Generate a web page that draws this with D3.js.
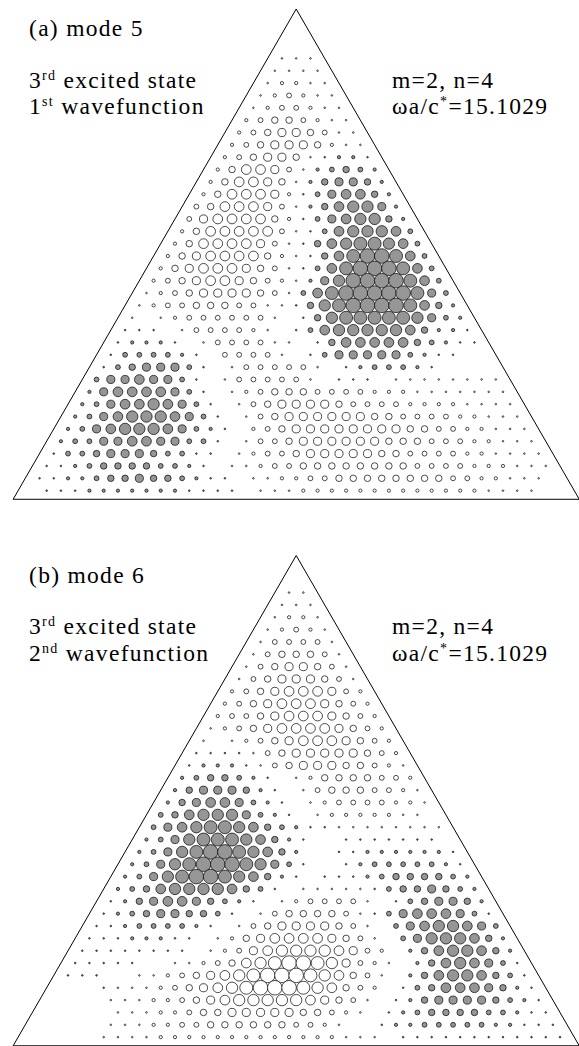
<!DOCTYPE html>
<html>
<head>
<meta charset="utf-8">
<script src="https://cdn.jsdelivr.net/npm/d3@7"></script>
<style>
html, body { margin: 0; padding: 0; background: #fff; }
svg { display: block; }
</style>
</head>
<body>
<svg id="chart" width="579" height="1046"></svg>
<script>
// amplitude rows, one string per lattice row (row k holds k-1 interior points)
// digits 0-9 = positive (open circle), letters a-i = negative (grey), magnitude 1-9
var mode5Rows = [
  "", "0", "00", "111", "1111", "12211", "123211", "1233211", "23443211",
  "234554311", "2345554211", "2345541abba", "2466531bcdcb", "2466541bdeedb",
  "2466652aceffdb", "34666531bdfggeb", "35666642acefggdb", "246666631acfgggfc",
  "246666531adfghhgfc", "2456666421adfhiihfc", "2456665431acfhiiihfc",
  "23456654321begiiiihfc", "12345555431cfhiiiiihec", "12334443311adghiiiihfdb",
  "101233333310adghhhhhgecb", "aaa013333210acfgggggfdbba", "abbba013333110adfffffdcbaa",
  "accccba0333310aceeeeecbaa00", "acdeeeca013333310abcccba0000",
  "ceefeeca013333310aaa011111111", "beffffeca012344433332221111111",
  "bceffgfeca013455554333322221111", "bcefgggfeca013455555544333322111",
  "bcefgggfecba023455555555443322111", "bcceeffeecca0133455555544433322111",
  "accdeeedccaa01233455555443333221111", "aabcddddccba011233444444443333222111",
  "aabbcddeddcbaa01122334444444433221110", "0aaabbbbbbbaaaa01112222222222222111100"
];

var mode6Rows = [
  "", "0", "11", "111", "1221", "12321", "133331", "1344431", "13455431",
  "134555431", "2345666532", "23456665432", "233456665432", "1234566665432",
  "10123456665432", "aaaa13455555432", "abbba13455544321", "bcddcba0124444332",
  "bdeeedba0134443321", "bdeffecba0123333221", "cdfgggecba0122222110",
  "cefghhgfdcbaa11111111", "bceghhhgfdba00aaaaaaa0", "bceghiihgfdb00aabbbbbba",
  "bceghiiihgeca00abcccccba", "bceghiihgfdba0aaabcddddcb", "bcdfggggfdca011111acddedcb",
  "abdeffedcba012333310acdeedb", "abcdeeddca013444431acefffeca",
  "aabccccba013455554310cefggfec", "aaabbbaa01245666654310cegggfdb",
  "aaaaaaaa012356777765320bdfggfdb", "aaaaa0011234678998753210bdfgfeca",
  "aaa001123456789998764310bdfggfdca", "000a11123456789998764320acdfffedba",
  "000011122345677777654310abdeeeedcba", "000001112234455555443210abcddddccbaa",
  "000001112233444444332100abbcccccbbaaa", "00000111122222222222221110aaaaaaaaaaaaaa0"
];

var panelTitles = ["(a) mode 5", "(b) mode 6"];
var stateLine = ["3", "rd", " excited state"];
var waveLines = [["1", "st", " wavefunction"], ["2", "nd", " wavefunction"]];
var quantumLine = ["m=2, n=4"];
var freqLine = ["\u03c9a/c", "*", "=15.1029"];

var rows = [mode5Rows, mode6Rows];
var panelShift = [0, 546.5];

var fontStack = "'Liberation Serif', 'DejaVu Serif', 'Noto Serif', 'Times New Roman', serif";

var svg = d3.select("#chart");

var nDiv = 40;
var x = d3.scaleLinear().domain([-nDiv / 2, nDiv / 2]).range([296.2 - 20 * 14.26, 296.2 + 20 * 14.26]);
var y = d3.scaleLinear().domain([0, nDiv]).range([9, 9 + nDiv * 12.35]);
var r = d3.scaleLinear().domain([0, 9]).range([0, 7.3]);

function decode(ch) {
    if (ch >= "a" && ch <= "i") return -(ch.charCodeAt(0) - 96);
    return +ch;
}

// turn the row strings into lattice points
function toPoints(list) {
    var pts = [];
    list.forEach(function(s, i) {
        var k = i + 1;
        for (var j = 1; j <= s.length && j < k; j++) {
            var v = decode(s[j - 1]);
            if (v !== 0) pts.push({k: k, c: j - k / 2, v: v});
        }
    });
    return pts;
}

// text with every second part raised as a superscript
function addText(g, parts, px, py) {
    var t = g.append("text")
        .attr("x", px).attr("y", py)
        .attr("font-family", fontStack)
        .attr("font-size", 23.5)
        .attr("letter-spacing", 1.3)
        .attr("fill", "#000");
    var up = false;
    parts.forEach(function(p, i) {
        var ts = t.append("tspan").text(p);
        if (i % 2 === 1) { ts.attr("dy", -8).attr("font-size", 14); up = true; }
        else if (up) { ts.attr("dy", 8); up = false; }
    });
}

rows.forEach(function(list, p) {
    var g = svg.append("g").attr("transform", "translate(0," + panelShift[p] + ")");

    // triangle outline
    var tri = [[0, 0], [-19.85, 39.7], [19.85, 39.7]];
    g.append("path")
        .attr("d", d3.line().x(function(d) { return x(d[0]); }).y(function(d) { return y(d[1]); }).curve(d3.curveLinearClosed)(tri))
        .attr("fill", "none")
        .attr("stroke", "#000")
        .attr("stroke-width", 1);

    g.selectAll("circle.pt")
        .data(toPoints(list))
        .enter().append("circle")
        .attr("class", "pt")
        .attr("cx", function(d) { return x(d.c); })
        .attr("cy", function(d) { return y(d.k); })
        .attr("r", function(d) { return r(Math.abs(d.v)); })
        .attr("fill", function(d) { return d.v < 0 ? "#969696" : "#fff"; })
        .attr("stroke", "#000")
        .attr("stroke-width", 0.7);

    addText(g, [panelTitles[p]], 29, 36);
    addText(g, stateLine, 29, 87.5);
    addText(g, waveLines[p], 29, 114);
    addText(g, quantumLine, 392, 87.5);
    addText(g, freqLine, 392, 114);
});
</script>
</body>
</html>
